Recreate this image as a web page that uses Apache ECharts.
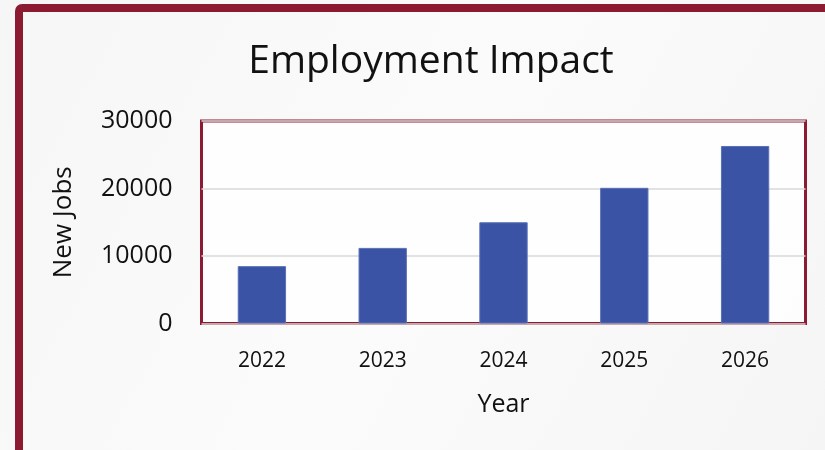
<!DOCTYPE html>
<html>
<head>
<meta charset="utf-8">
<title>Employment Impact</title>
<script src="https://cdn.jsdelivr.net/npm/echarts@6/dist/echarts.min.js"></script>
<style>
  html, body {
    margin: 0;
    padding: 0;
    background: #f7f7f7;
  }
  #chart {
    width: 825px;
    height: 450px;
  }
</style>
</head>
<body>
<div id="chart"></div>
<script>
// data
const years = ['2022', '2023', '2024', '2025', '2026']
const newJobs = [8500, 11200, 15000, 20100, 26300]
const yTicks = [0, 10000, 20000, 30000]

const FRAME_RED = '#8c1a30'
const FONT = '"Open Sans", "Noto Sans", sans-serif'

const myChart = echarts.init(document.getElementById('chart'))

const option = {
  backgroundColor: {
    type: 'linear',
    x: 0, y: 0, x2: 1, y2: 1,
    colorStops: [
      { offset: 0, color: '#f6f6f6' },
      { offset: 0.5, color: '#fbfbfb' },
      { offset: 1, color: '#f5f5f5' },
    ],
  },
  animation: false,
  textStyle: { fontFamily: FONT },
  title: {
    text: 'Employment Impact',
    left: 426,
    top: 37,
    textAlign: 'center',
    textStyle: {
      fontFamily: FONT,
      fontSize: 39,
      fontWeight: 'normal',
      color: '#111',
    },
  },
  // outer frame, runs off the right and bottom of the page
  graphic: [
    {
      type: 'rect',
      z: -1,
      shape: { x: 19, y: 8, width: 900, height: 600, r: 3 },
      style: { fill: null, stroke: FRAME_RED, lineWidth: 8 },
    },
  ],
  grid: {
    left: 201.5,
    right: 19.5,
    top: 121,
    bottom: 126.5,
    show: true,
    backgroundColor: 'rgba(255,255,255,0.8)',
    borderColor: FRAME_RED,
    borderWidth: 3,
  },
  xAxis: {
    type: 'category',
    data: years,
    name: 'Year',
    nameLocation: 'middle',
    nameGap: 69,
    nameTextStyle: { fontFamily: FONT, fontSize: 25, color: '#111' },
    axisLine: { show: false },
    axisTick: { show: false },
    axisLabel: { fontFamily: FONT, fontSize: 21, color: '#111', margin: 27 },
  },
  yAxis: {
    type: 'value',
    min: yTicks[0],
    max: yTicks[yTicks.length - 1],
    interval: yTicks[1] - yTicks[0],
    name: 'New Jobs',
    nameLocation: 'middle',
    nameGap: 125,
    nameRotate: 90,
    nameTextStyle: { fontFamily: FONT, fontSize: 26, color: '#111' },
    axisLine: { show: false },
    axisTick: { show: false },
    axisLabel: {
      fontFamily: FONT,
      fontSize: 25,
      color: '#111',
      margin: 29,
      formatter: (v) => String(v),
    },
    splitLine: { lineStyle: { color: '#d9d9d9', width: 1.5 } },
  },
  series: [
    {
      type: 'bar',
      data: newJobs,
      barWidth: '40%',
      itemStyle: {
        color: '#3a53a4',
        borderColor: '#5a6fb6',
        borderWidth: 1,
      },
    },
  ],
}

myChart.setOption(option)
</script>
</body>
</html>
